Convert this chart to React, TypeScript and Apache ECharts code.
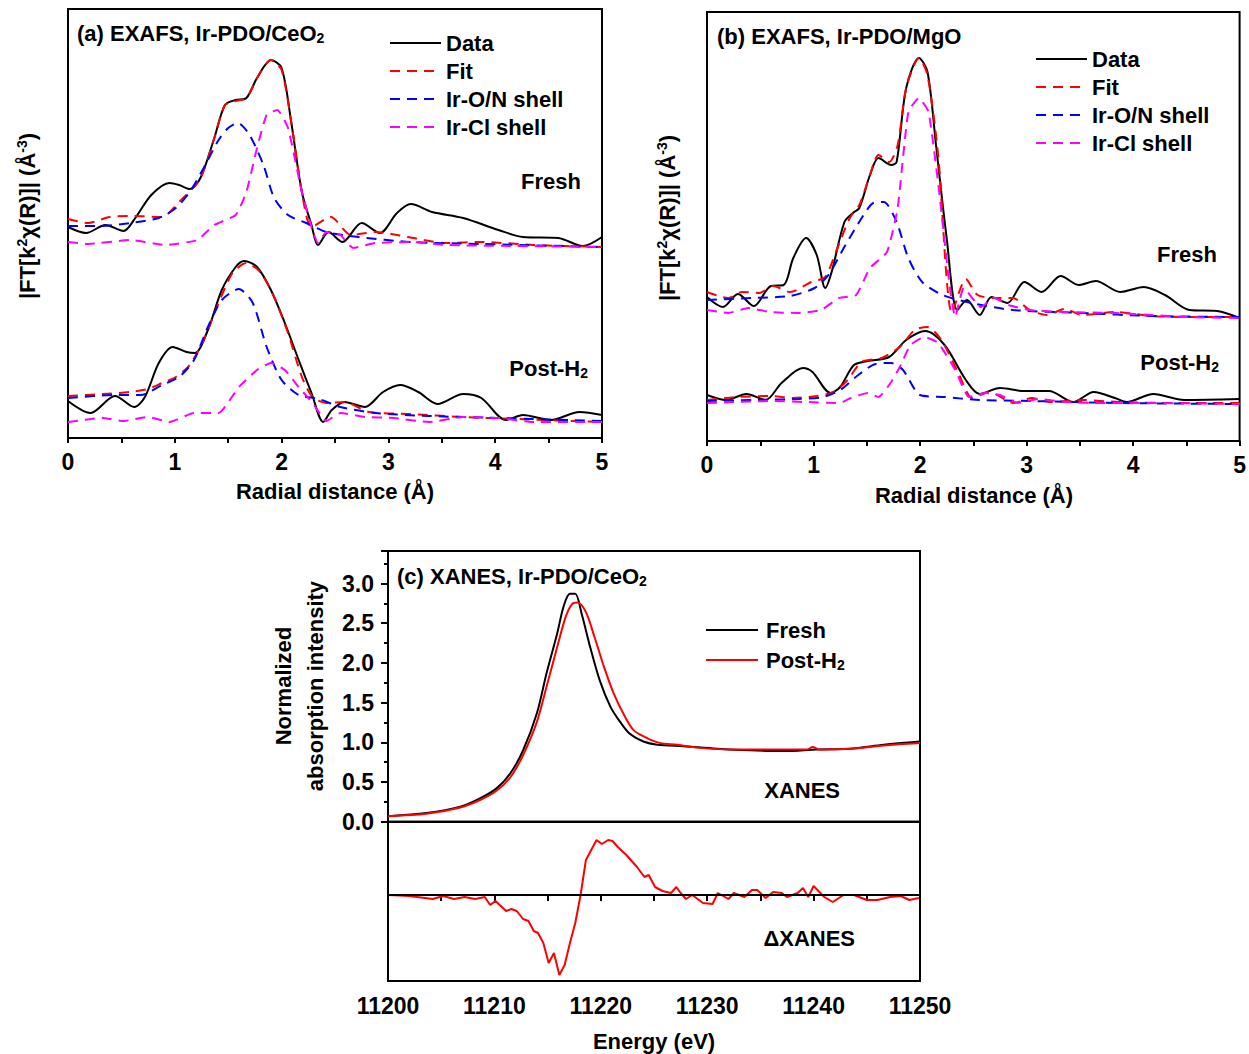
import React, { useEffect, useRef } from 'react';
import * as echarts from 'echarts';

const FONT = '"Liberation Sans", Arial, Helvetica, sans-serif';

// ---------- Panel (a): EXAFS Ir-PDO/CeO2 (R in Å, |FT| in arbitrary offset units) ----------
const aFreshData: number[][] = [[0.00,2.11],[0.17,2.05],[0.35,2.13],[0.52,2.07],[0.63,2.20],[0.78,2.43],[0.95,2.55],[1.04,2.53],[1.14,2.49],[1.24,2.60],[1.37,3.00],[1.47,3.33],[1.57,3.38],[1.67,3.40],[1.77,3.60],[1.90,3.78],[2.00,3.70],[2.09,3.16],[2.19,2.46],[2.28,2.13],[2.34,1.93],[2.44,2.06],[2.57,1.96],[2.75,2.15],[2.92,2.05],[3.08,2.25],[3.21,2.34],[3.41,2.26],[3.70,2.20],[4.03,2.08],[4.26,2.01],[4.59,2.00],[4.82,1.92],[5.00,2.01]];
const aFreshFit: number[][] = [[0.00,2.19],[0.19,2.15],[0.39,2.21],[0.62,2.22],[0.88,2.21],[1.04,2.36],[1.24,2.60],[1.37,3.00],[1.47,3.33],[1.57,3.37],[1.67,3.40],[1.77,3.60],[1.90,3.78],[2.00,3.68],[2.09,3.16],[2.19,2.46],[2.28,2.11],[2.46,2.21],[2.65,2.03],[2.88,2.06],[3.18,2.01],[3.54,1.95],[3.87,1.96],[4.36,1.93],[5.00,1.91]];
const aFreshON: number[][] = [[0.00,2.12],[0.32,2.12],[0.58,2.15],[0.85,2.20],[1.01,2.30],[1.14,2.46],[1.27,2.70],[1.41,2.98],[1.50,3.10],[1.59,3.15],[1.70,3.03],[1.83,2.73],[1.93,2.40],[2.06,2.23],[2.23,2.15],[2.42,2.06],[2.72,2.01],[3.21,1.96],[3.87,1.94],[5.00,1.91]];
const aFreshCl: number[][] = [[0.00,1.96],[0.19,1.94],[0.58,1.98],[0.91,1.93],[1.21,1.98],[1.37,2.13],[1.57,2.23],[1.67,2.46],[1.77,2.90],[1.86,3.23],[1.96,3.28],[2.06,3.10],[2.19,2.46],[2.28,2.11],[2.34,1.95],[2.42,2.06],[2.55,2.03],[2.67,1.90],[2.88,1.95],[3.21,1.96],[3.54,1.93],[4.20,1.92],[5.00,1.91]];
const aPostData: number[][] = [[0.00,0.37],[0.21,0.25],[0.44,0.42],[0.62,0.31],[0.72,0.41],[0.85,0.75],[0.98,0.91],[1.11,0.86],[1.19,0.85],[1.31,1.08],[1.44,1.48],[1.57,1.71],[1.65,1.77],[1.77,1.71],[1.90,1.48],[2.03,1.15],[2.16,0.78],[2.28,0.45],[2.39,0.16],[2.47,0.28],[2.59,0.36],[2.78,0.31],[2.95,0.46],[3.11,0.53],[3.28,0.46],[3.46,0.34],[3.70,0.44],[3.87,0.40],[4.10,0.18],[4.26,0.23],[4.52,0.18],[4.79,0.26],[5.00,0.23]];
const aPostFit: number[][] = [[0.00,0.42],[0.32,0.44],[0.58,0.46],[0.75,0.49],[0.88,0.55],[1.01,0.61],[1.14,0.73],[1.27,0.98],[1.41,1.35],[1.54,1.65],[1.67,1.75],[1.80,1.66],[1.93,1.41],[2.06,1.05],[2.19,0.61],[2.29,0.41],[2.42,0.35],[2.59,0.36],[2.82,0.26],[3.21,0.24],[3.70,0.21],[4.20,0.19],[5.00,0.16]];
const aPostON: number[][] = [[0.00,0.40],[0.43,0.43],[0.68,0.43],[0.88,0.53],[1.04,0.61],[1.18,0.78],[1.31,1.11],[1.44,1.38],[1.60,1.49],[1.73,1.35],[1.86,0.91],[2.00,0.58],[2.16,0.43],[2.35,0.39],[2.55,0.31],[2.88,0.25],[3.38,0.22],[4.03,0.20],[5.00,0.17]];
const aPostCl: number[][] = [[0.00,0.16],[0.32,0.20],[0.52,0.17],[0.75,0.21],[0.95,0.16],[1.18,0.25],[1.41,0.25],[1.60,0.51],[1.77,0.68],[1.90,0.75],[2.03,0.68],[2.16,0.51],[2.29,0.35],[2.42,0.17],[2.55,0.25],[2.78,0.21],[3.05,0.20],[3.38,0.16],[3.70,0.21],[4.03,0.20],[4.36,0.16],[5.00,0.16]];

// ---------- Panel (b): EXAFS Ir-PDO/MgO ----------
const bFreshData: number[][] = [[0.00,1.44],[0.15,1.34],[0.29,1.47],[0.44,1.35],[0.60,1.55],[0.72,1.56],[0.81,1.83],[0.93,2.03],[1.03,1.86],[1.11,1.53],[1.17,1.69],[1.29,2.19],[1.37,2.28],[1.43,2.33],[1.53,2.66],[1.61,2.83],[1.73,2.76],[1.78,2.79],[1.87,3.53],[1.99,3.83],[2.07,3.69],[2.15,2.96],[2.25,2.03],[2.35,1.31],[2.44,1.41],[2.56,1.26],[2.67,1.44],[2.82,1.38],[2.98,1.59],[3.14,1.49],[3.32,1.65],[3.49,1.56],[3.65,1.60],[3.88,1.49],[4.10,1.54],[4.30,1.46],[4.53,1.31],[4.79,1.30],[5.00,1.23]];
const bFreshFit: number[][] = [[0.00,1.49],[0.20,1.43],[0.33,1.49],[0.49,1.48],[0.62,1.55],[0.78,1.49],[0.98,1.59],[1.11,1.64],[1.21,1.89],[1.34,2.23],[1.43,2.36],[1.53,2.66],[1.61,2.86],[1.71,2.79],[1.79,2.96],[1.87,3.53],[1.99,3.83],[2.07,3.66],[2.17,2.86],[2.30,1.28],[2.43,1.62],[2.54,1.46],[2.70,1.43],[2.87,1.43],[3.03,1.31],[3.19,1.26],[3.36,1.32],[3.52,1.26],[3.84,1.29],[4.17,1.25],[4.50,1.24],[5.00,1.24]];
const bFreshON: number[][] = [[0.00,1.41],[0.42,1.43],[0.78,1.45],[1.01,1.53],[1.14,1.66],[1.30,1.96],[1.47,2.26],[1.56,2.38],[1.66,2.39],[1.78,2.19],[1.89,1.83],[2.02,1.59],[2.21,1.46],[2.48,1.38],[2.87,1.31],[3.52,1.28],[4.17,1.25],[5.00,1.24]];
const bFreshCl: number[][] = [[0.00,1.31],[0.20,1.28],[0.39,1.33],[0.59,1.29],[0.85,1.28],[1.07,1.31],[1.24,1.43],[1.40,1.46],[1.53,1.73],[1.69,1.89],[1.79,2.33],[1.89,3.29],[1.99,3.43],[2.08,3.29],[2.18,2.49],[2.28,1.53],[2.33,1.24],[2.41,1.53],[2.57,1.34],[2.70,1.43],[2.83,1.36],[3.03,1.31],[3.36,1.29],[3.84,1.28],[4.50,1.24],[5.00,1.23]];
const bPostData: number[][] = [[0.00,0.46],[0.18,0.41],[0.37,0.47],[0.55,0.41],[0.70,0.58],[0.90,0.73],[0.99,0.69],[1.16,0.48],[1.25,0.54],[1.38,0.76],[1.51,0.80],[1.71,0.84],[1.87,1.01],[2.05,1.10],[2.23,0.96],[2.43,0.61],[2.56,0.47],[2.75,0.53],[2.98,0.50],[3.21,0.50],[3.44,0.39],[3.63,0.49],[3.83,0.43],[3.94,0.39],[4.19,0.47],[4.48,0.41],[5.00,0.42]];
const bPostFit: number[][] = [[0.00,0.41],[0.28,0.44],[0.60,0.45],[0.80,0.43],[1.03,0.45],[1.19,0.49],[1.32,0.61],[1.45,0.79],[1.64,0.83],[1.81,0.94],[1.95,1.11],[2.07,1.14],[2.20,1.01],[2.36,0.68],[2.49,0.43],[2.65,0.49],[2.88,0.38],[3.05,0.43],[3.21,0.39],[3.53,0.41],[3.86,0.39],[4.35,0.38],[5.00,0.38]];
const bPostON: number[][] = [[0.00,0.40],[0.44,0.41],[0.86,0.42],[1.09,0.44],[1.25,0.51],[1.42,0.66],[1.58,0.77],[1.73,0.78],[1.84,0.71],[2.00,0.46],[2.23,0.44],[2.56,0.41],[3.05,0.40],[3.86,0.38],[5.00,0.37]];
const bPostCl: number[][] = [[0.00,0.38],[0.28,0.39],[0.60,0.40],[0.93,0.39],[1.25,0.38],[1.35,0.43],[1.51,0.48],[1.61,0.44],[1.73,0.59],[1.81,0.74],[1.91,0.96],[2.04,1.04],[2.17,0.98],[2.33,0.71],[2.46,0.44],[2.62,0.48],[2.75,0.46],[2.92,0.38],[3.11,0.42],[3.37,0.39],[3.70,0.38],[4.19,0.38],[5.00,0.37]];

// ---------- Panel (c): XANES (energy eV, normalized absorption) ----------
const cFresh: number[][] = [[11200,0.07],[11203.6,0.11],[11206.8,0.19],[11208.6,0.29],[11210.2,0.42],[11211.5,0.61],[11212.7,0.90],[11214.0,1.37],[11214.9,1.87],[11215.9,2.37],[11216.5,2.71],[11217.1,2.87],[11217.6,2.87],[11218.2,2.62],[11219.0,2.20],[11219.9,1.78],[11220.9,1.45],[11221.8,1.26],[11222.7,1.11],[11224.0,1.01],[11225.3,0.97],[11227.8,0.95],[11230.9,0.92],[11234.0,0.90],[11237.2,0.89],[11240.3,0.91],[11243.4,0.92],[11246.6,0.97],[11250,1.01]];
const cPost: number[][] = [[11200,0.07],[11203.6,0.10],[11206.8,0.18],[11208.6,0.27],[11210.2,0.39],[11211.5,0.56],[11212.7,0.84],[11214.0,1.26],[11214.9,1.70],[11215.9,2.20],[11216.7,2.58],[11217.3,2.74],[11217.8,2.76],[11218.6,2.64],[11219.4,2.33],[11220.3,1.95],[11221.2,1.62],[11222.2,1.34],[11223.1,1.15],[11224.4,1.05],[11225.6,0.99],[11227.2,0.97],[11229.3,0.93],[11232.4,0.91],[11235.6,0.91],[11239.4,0.91],[11239.9,0.94],[11240.5,0.91],[11243.4,0.92],[11246.6,0.96],[11250,0.99]];
const cDelta: number[][] = [[11200.0,0],[11202.0,-0.005],[11204.2,-0.02],[11205.2,-0.005],[11206.2,-0.02],[11207.2,-0.01],[11208.2,-0.02],[11209.1,-0.01],[11209.6,-0.05],[11210.1,-0.03],[11211.1,-0.08],[11211.6,-0.07],[11212.1,-0.08],[11212.7,-0.12],[11213.2,-0.13],[11213.7,-0.18],[11214.1,-0.19],[11214.6,-0.24],[11215.1,-0.34],[11215.6,-0.29],[11216.1,-0.40],[11216.6,-0.35],[11217.1,-0.24],[11217.6,-0.14],[11218.1,0],[11218.6,0.175],[11219.1,0.225],[11219.6,0.275],[11220.1,0.255],[11220.7,0.275],[11221.1,0.27],[11221.6,0.24],[11222.4,0.20],[11223.4,0.14],[11224.1,0.09],[11224.5,0.10],[11225.1,0.04],[11225.8,0.02],[11226.6,0.01],[11227.1,0.04],[11227.5,0.01],[11228.0,-0.02],[11228.6,0],[11229.6,-0.04],[11230.5,-0.045],[11231.0,0.01],[11232.0,-0.02],[11232.5,0.01],[11233.5,-0.01],[11234.2,0.025],[11234.7,0.025],[11235.5,-0.015],[11236.2,0.015],[11237.0,0.01],[11237.5,-0.01],[11238.5,0.01],[11239.0,0.035],[11239.5,-0.01],[11240.0,0.045],[11241.0,-0.01],[11241.8,-0.035],[11242.8,0],[11243.8,0],[11245.0,-0.025],[11246.0,-0.025],[11247.2,-0.01],[11248.2,-0.005],[11249.0,-0.025],[11249.9,-0.015]];

const exafsTicks = [0, 1, 2, 3, 4, 5];
const energyTicks = [11200, 11210, 11220, 11230, 11240, 11250];
const xanesYTicks = [0, 0.5, 1.0, 1.5, 2.0, 2.5, 3.0];

const RICH = {
  sub: { fontSize: 14, fontWeight: 'bold', fontFamily: FONT, verticalAlign: 'bottom', lineHeight: 9, fill: '#000', color: '#000' },
  sup: { fontSize: 14, fontWeight: 'bold', fontFamily: FONT, verticalAlign: 'top', lineHeight: 10, fill: '#000', color: '#000' },
};

function lineSeries(name: string, data: number[][], axis: number, color: string, dashed: boolean, smooth: number, z = 2) {
  return {
    type: 'line', name, data, xAxisIndex: axis, yAxisIndex: axis,
    symbol: 'none', showSymbol: false, smooth, z,
    lineStyle: { color, width: 2, type: dashed ? [10, 7] : 'solid' },
    itemStyle: { color },
    emphasis: { disabled: true },
  };
}

function txt(text: string, x: number, y: number, align = 'left', rotation = 0, lineHeight = 24) {
  return {
    type: 'text', x, y, rotation, silent: true,
    style: {
      text, fill: '#000', fontSize: 22, fontWeight: 'bold', fontFamily: FONT,
      align, verticalAlign: 'middle', lineHeight, rich: RICH,
    },
  };
}

const labelStyle = { color: '#000', fontSize: 22, fontWeight: 'bold', fontFamily: FONT };
const tickLabelStyle = { color: '#000', fontSize: 23, fontWeight: 'bold', fontFamily: FONT };

function exafsX(grid: number) {
  return {
    type: 'value', gridIndex: grid, min: exafsTicks[0], max: exafsTicks[exafsTicks.length - 1], interval: 1,
    axisLine: { show: true, lineStyle: { color: '#000', width: 2 } },
    axisTick: { show: true, inside: false, length: 5, lineStyle: { color: '#000', width: 2 } },
    minorTick: { show: true, splitNumber: 2, length: 5, lineStyle: { color: '#000', width: 2 } },
    axisLabel: { ...tickLabelStyle, margin: 12 },
    splitLine: { show: false },
  };
}
function hiddenY(grid: number, min: number, max: number) {
  return {
    type: 'value', gridIndex: grid, min, max,
    axisLine: { show: true, lineStyle: { color: '#000', width: 2 } },
    axisTick: { show: false }, axisLabel: { show: false }, splitLine: { show: false },
  };
}

const legendBase = {
  orient: 'vertical', padding: 0, itemWidth: 51, itemHeight: 14, itemGap: 4, selectedMode: false,
  itemStyle: { opacity: 0, color: 'transparent', borderWidth: 0 },
  textStyle: { ...labelStyle, lineHeight: 24, rich: RICH },
};

export default function App() {
  const ref = useRef<HTMLDivElement>(null);
  useEffect(() => {
    const chart = echarts.init(ref.current!, null, { renderer: 'svg' });
    const gridBase = { show: true, borderColor: '#000', borderWidth: 2, backgroundColor: 'transparent', containLabel: false };
    const option: any = {
      animation: false,
      backgroundColor: '#fff',
      grid: [
        { ...gridBase, left: 68, top: 9, width: 534, height: 429 },
        { ...gridBase, left: 707, top: 12, width: 533, height: 429 },
        { ...gridBase, left: 388, top: 551, width: 532, height: 270.7 },
        { ...gridBase, left: 388, top: 821.7, width: 532, height: 159.3 },
      ],
      xAxis: [
        exafsX(0),
        exafsX(1),
        {
          type: 'value', gridIndex: 2, min: energyTicks[0], max: energyTicks[energyTicks.length - 1], interval: 10,
          axisLine: { show: true, lineStyle: { color: '#000', width: 2 } },
          axisTick: { show: false }, axisLabel: { show: false }, splitLine: { show: false },
        },
        {
          type: 'value', gridIndex: 3, min: energyTicks[0], max: energyTicks[energyTicks.length - 1], interval: 10,
          axisLine: { show: true, lineStyle: { color: '#000', width: 2 } },
          axisTick: { show: true, inside: false, length: 6, lineStyle: { color: '#000', width: 2 } },
          minorTick: { show: true, splitNumber: 2, length: 6, lineStyle: { color: '#000', width: 2 } },
          axisLabel: { ...tickLabelStyle, margin: 13, formatter: (v: number) => String(v) },
          splitLine: { show: false },
        },
      ],
      yAxis: [
        hiddenY(0, 0, 4.29),
        hiddenY(1, 0, 4.29),
        {
          type: 'value', gridIndex: 2, min: xanesYTicks[0], max: 3.41, interval: 0.5,
          axisLine: { show: true, lineStyle: { color: '#000', width: 2 } },
          axisTick: { show: true, inside: false, length: 7, lineStyle: { color: '#000', width: 2 } },
          minorTick: { show: true, splitNumber: 2, length: 4, lineStyle: { color: '#000', width: 2 } },
          axisLabel: {
            ...tickLabelStyle, margin: 14, showMaxLabel: false,
            formatter: (v: number) => (xanesYTicks.some((t) => Math.abs(t - v) < 1e-6) ? v.toFixed(1) : ''),
          },
          splitLine: { show: false },
        },
        hiddenY(3, -0.43, 0.3665),
      ],
      legend: [
        { ...legendBase, left: 389, top: 31, data: ['Data', 'Fit', 'Ir-O/N shell', 'Ir-Cl shell'] },
        { ...legendBase, left: 1035, top: 47, data: ['Data', 'Fit', 'Ir-O/N shell', 'Ir-Cl shell'] },
        {
          ...legendBase, left: 705, top: 618, itemWidth: 52, itemGap: 6,
          data: ['Fresh', 'Post-H2'],
          formatter: (n: string) => (n === 'Post-H2' ? 'Post-H{sub|2}' : n),
          textStyle: { ...labelStyle, lineHeight: 24, rich: RICH, padding: [0, 0, 0, 3] },
        },
      ],
      series: [
        lineSeries('Data', aFreshData, 0, '#000', false, 0.3, 2),
        lineSeries('Data', aPostData, 0, '#000', false, 0.3, 2),
        lineSeries('Fit', aFreshFit, 0, '#ff0000', true, 0.25, 3),
        lineSeries('Fit', aPostFit, 0, '#ff0000', true, 0.25, 3),
        lineSeries('Ir-O/N shell', aFreshON, 0, '#0000ff', true, 0.25, 4),
        lineSeries('Ir-O/N shell', aPostON, 0, '#0000ff', true, 0.25, 4),
        lineSeries('Ir-Cl shell', aFreshCl, 0, '#ff00ff', true, 0.15, 5),
        lineSeries('Ir-Cl shell', aPostCl, 0, '#ff00ff', true, 0.15, 5),

        lineSeries('Data', bFreshData, 1, '#000', false, 0.3, 2),
        lineSeries('Data', bPostData, 1, '#000', false, 0.3, 2),
        lineSeries('Fit', bFreshFit, 1, '#ff0000', true, 0.25, 3),
        lineSeries('Fit', bPostFit, 1, '#ff0000', true, 0.25, 3),
        lineSeries('Ir-O/N shell', bFreshON, 1, '#0000ff', true, 0.25, 4),
        lineSeries('Ir-O/N shell', bPostON, 1, '#0000ff', true, 0.25, 4),
        lineSeries('Ir-Cl shell', bFreshCl, 1, '#ff00ff', true, 0.15, 5),
        lineSeries('Ir-Cl shell', bPostCl, 1, '#ff00ff', true, 0.15, 5),

        lineSeries('Fresh', cFresh, 2, '#000', false, 0.3, 3),
        lineSeries('Post-H2', cPost, 2, '#ff0000', false, 0.3, 4),
        {
          ...lineSeries('ΔXANES', cDelta, 3, '#ff0000', false, 0, 4),
          markLine: {
            silent: true, symbol: 'none', label: { show: false },
            lineStyle: { color: '#000', width: 2, type: 'solid' },
            data: [{ yAxis: 0 }],
          },
        },
      ],
      graphic: [
        txt('(a) EXAFS, Ir-PDO/CeO{sub|2}', 77, 33),
        txt('(b) EXAFS, Ir-PDO/MgO', 717, 36),
        txt('(c) XANES, Ir-PDO/CeO{sub|2}', 397, 576),
        txt('Fresh', 581, 181, 'right'),
        txt('Post-H{sub|2}', 588, 368, 'right'),
        txt('Fresh', 1217, 254, 'right'),
        txt('Post-H{sub|2}', 1219, 362, 'right'),
        txt('XANES', 840, 790, 'right'),
        txt('ΔXANES', 855, 938, 'right'),
        txt('Radial distance (Å)', 335, 491, 'center'),
        txt('Radial distance (Å)', 974, 495, 'center'),
        txt('Energy (eV)', 654, 1041, 'center'),
        txt('|FT[k{sup|2}χ(R)]| (Å{sup|-3})', 27, 216, 'center', Math.PI / 2),
        txt('|FT[k{sup|2}χ(R)]| (Å{sup|-3})', 667, 218, 'center', Math.PI / 2),
        txt('Normalized\nabsorption intensity', 299, 686, 'center', Math.PI / 2, 32),
      ],
    };
    chart.setOption(option);
    return () => chart.dispose();
  }, []);
  return (
    <div
      ref={ref}
      style={{ position: 'absolute', left: 0, top: 0, width: 1249, height: 1054, background: '#fff' }}
    />
  );
}
